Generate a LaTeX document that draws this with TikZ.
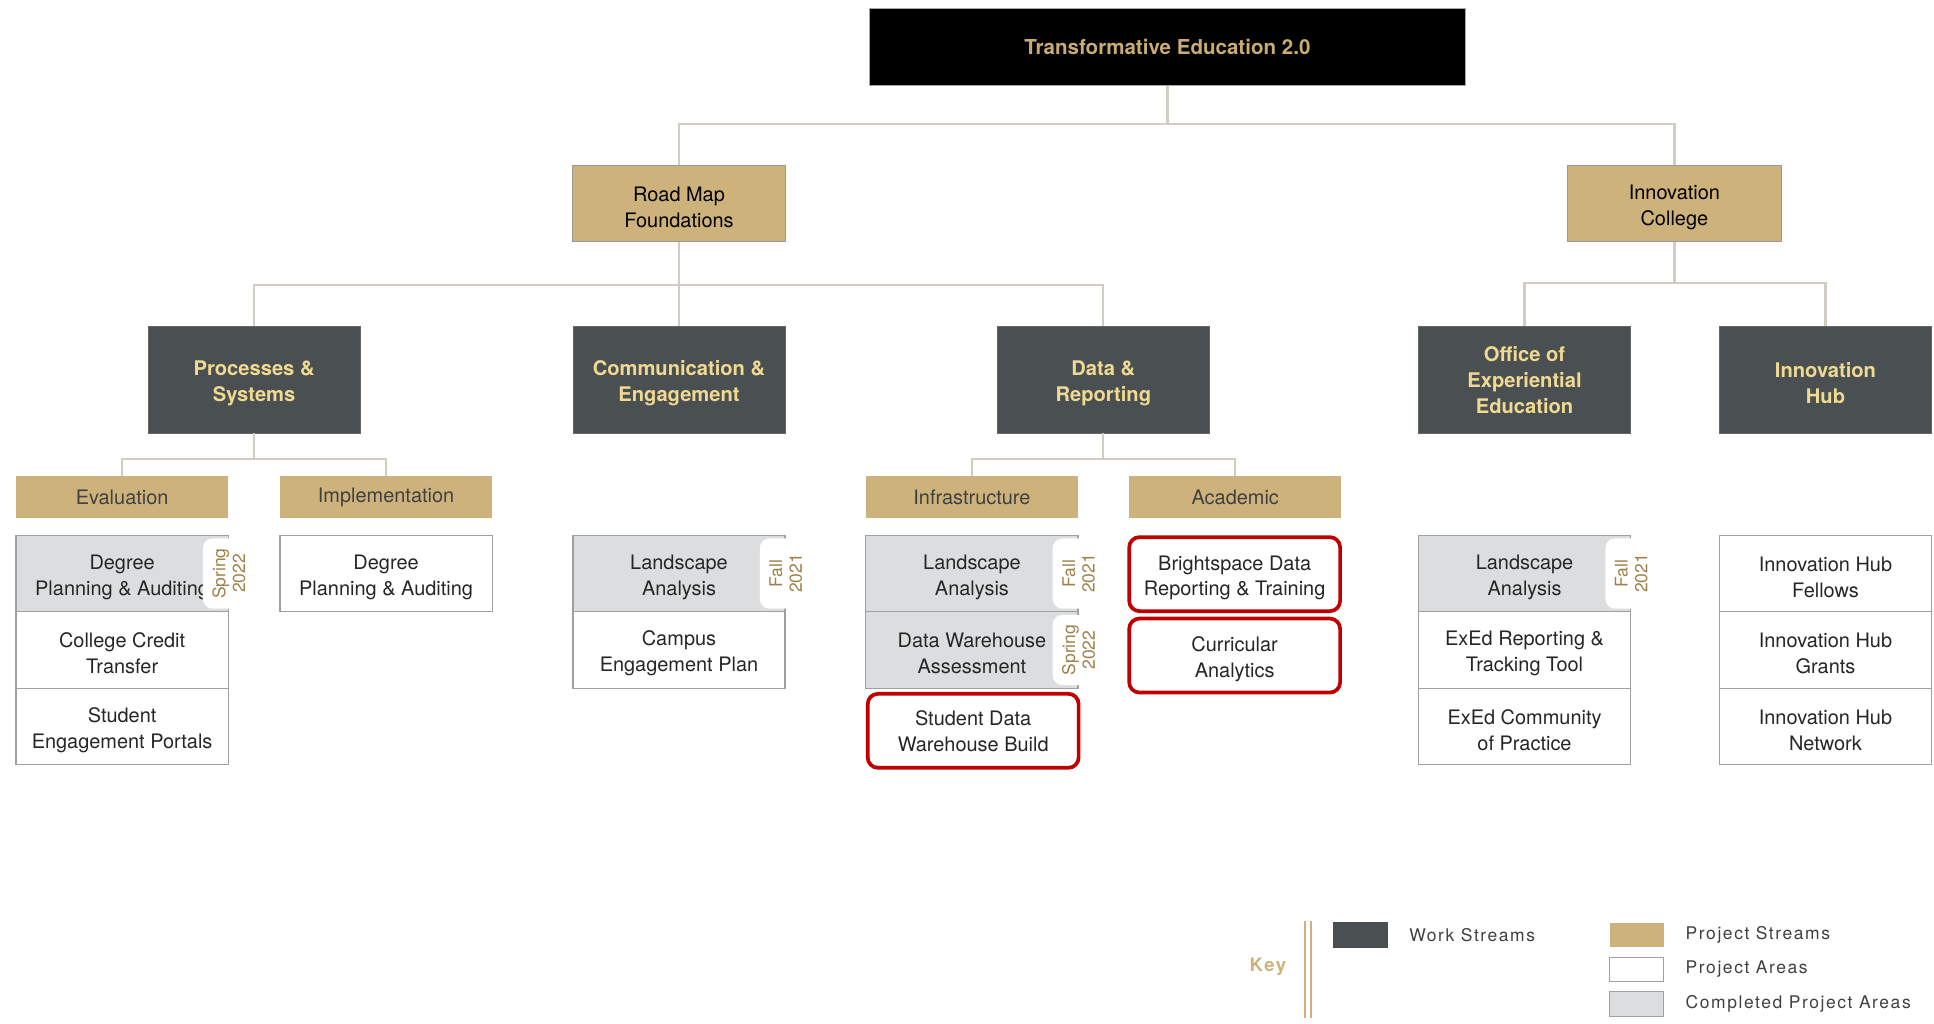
\documentclass[tikz,border=0pt]{standalone}
\usepackage{fontspec}
\setmainfont{TeX Gyre Heros}
\newfontfamily\keyfont[LetterSpace=9]{TeX Gyre Heros}
\usetikzlibrary{positioning}

\definecolor{ucfgold}{RGB}{205,178,124}
\definecolor{titlegold}{RGB}{200,172,114}
\definecolor{slate}{RGB}{74,79,82}
\definecolor{paleyellow}{RGB}{240,218,146}
\definecolor{linkgray}{RGB}{210,205,195}
\definecolor{donegray}{RGB}{220,221,223}
\definecolor{edgegray}{RGB}{160,160,160}
\definecolor{tabbrown}{RGB}{160,128,72}
\definecolor{flagred}{RGB}{192,0,0}
\definecolor{inkgray}{RGB}{64,64,64}

% white date tab on the right edge of a finished area
\newcommand{\datetab}[2]{%
	\fill[white, rounded corners = 4.8pt] ([xshift = -12.6pt, yshift = -1.8pt]#1.north east) rectangle ([xshift = 6pt, yshift = 1.8pt]#1.south east);
	\node[tabtext] (#1tab) at (#1.east) {#2};
}

\begin{document}
\begin{tikzpicture}[x = .6pt, y = -.6pt]
	\tikzstyle{every node} = [font = \fontsize{9.7}{12.6}\selectfont, align = center, inner sep = 0pt]
	\tikzstyle{lowtext} = [execute at begin node = {\rule{0pt}{23.3pt}}]
	\tikzstyle{link} = [draw = linkgray, line width = 1.1pt]
	\tikzstyle{rootbox} = [fill = black, draw = gray!70, text = titlegold, font = \fontsize{10}{12.6}\selectfont\bfseries, minimum width = 289.8pt, minimum height = 37.2pt]
	\tikzstyle{projbox} = [lowtext, fill = ucfgold, draw = gray!80, text = black, minimum width = 103.8pt, minimum height = 37.2pt]
	\tikzstyle{workbox} = [lowtext, fill = slate, draw = black!60, text = paleyellow, font = \fontsize{9.8}{12.6}\selectfont\bfseries, minimum width = 103.2pt, minimum height = 51.6pt]
	\tikzstyle{streambox} = [fill = ucfgold, text = inkgray, minimum width = 103.2pt, minimum height = 20.4pt]
	\tikzstyle{plainbox} = [fill = white, draw = edgegray, line width = .6pt, text = black!85, minimum width = 103.2pt, minimum height = 37.2pt]
	\tikzstyle{areabox} = [plainbox, lowtext]
	\tikzstyle{donebox} = [areabox, fill = donegray]
	\tikzstyle{redbox} = [plainbox, draw = flagred, line width = 1.8pt, rounded corners = 5pt, minimum width = 102.6pt, minimum height = 36pt]
	\tikzstyle{tabtext} = [rotate = 90, text = tabbrown, font = \fontsize{8.5}{9.6}\selectfont]
	\tikzstyle{swatch} = [minimum width = 26.4pt, minimum height = 12pt]
	\tikzstyle{keytext} = [text = inkgray, font = \keyfont\fontsize{8.5}{10}\selectfont]

	\useasboundingbox (0,0) rectangle (1568,830);

	% top of the tree
	\node[rootbox] (root) at (946.5, 38) {Transformative Education 2.0};
	\node[projbox] (rmf) at (550.5, 165) {Road Map\\Foundations};
	\node[projbox] (ic) at (1357.5, 165) {Innovation\\College};

	% work streams
	\node[workbox] (ps) at (206, 308) {Processes \&\\Systems};
	\node[workbox] (ce) at (550.5, 308) {Communication \&\\Engagement};
	\node[workbox] (dr) at (894.5, 308) {Data \&\\Reporting};
	\node[workbox] (oe) at (1236, 308) {Office of\\Experiential\\Education};
	\node[workbox] (ih) at (1480, 308) {Innovation\\Hub};

	% project streams
	\node[streambox] (ev) at (99, 403) {Evaluation};
	\node[streambox] (im) at (313, 403) {Implementation};
	\node[streambox] (inf) at (788, 403) {Infrastructure};
	\node[streambox] (ac) at (1001.5, 403) {Academic};

	% connectors
	\foreach \w in {rmf, ic}
		\draw[link] (root.south) -- ++(0,31) -| (\w.north);
	\foreach \w in {ps, ce, dr}
		\draw[link] (rmf.south) -- ++(0,35) -| (\w.north);
	\foreach \w in {oe, ih}
		\draw[link] (ic.south) -- ++(0,33) -| (\w.north);
	\foreach \s in {ev, im}
		\draw[link] (ps.south) -- ++(0,21) -| (\s.north);
	\foreach \s in {inf, ac}
		\draw[link] (dr.south) -- ++(0,21) -| (\s.north);

	% project areas
	\node[donebox] (ev1) at (99, 465) {Degree\\Planning \& Auditing};
	\node[areabox] (ev2) at (99, 527) {College Credit\\Transfer};
	\node[areabox] (ev3) at (99, 589) {Student\\Engagement Portals};
	\datetab{ev1}{Spring\\2022}

	\node[areabox] (im1) at (313, 465) {Degree\\Planning \& Auditing};

	\node[donebox] (ce1) at (550.5, 465) {Landscape\\Analysis};
	\node[areabox] (ce2) at (550.5, 527) {Campus\\Engagement Plan};
	\datetab{ce1}{Fall\\2021}

	\node[donebox] (inf1) at (788, 465) {Landscape\\Analysis};
	\node[donebox] (inf2) at (788, 527) {Data Warehouse\\Assessment};
	\node[redbox] (inf3) at (789, 592.5) {Student Data\\Warehouse Build};
	\datetab{inf1}{Fall\\2021}
	\datetab{inf2}{Spring\\2022}

	\node[redbox, lowtext] (ac1) at (1001, 465.5) {Brightspace Data\\Reporting \& Training};
	\node[redbox, lowtext] (ac2) at (1001, 531.5) {Curricular\\Analytics};

	\node[donebox] (oe1) at (1236, 465) {Landscape\\Analysis};
	\node[areabox] (oe2) at (1236, 527) {ExEd Reporting \&\\Tracking Tool};
	\node[areabox] (oe3) at (1236, 589) {ExEd Community\\of Practice};
	\datetab{oe1}{Fall\\2021}

	\node[areabox] (ih1) at (1480, 465) {Innovation Hub\\Fellows};
	\node[areabox] (ih2) at (1480, 527) {Innovation Hub\\Grants};
	\node[areabox] (ih3) at (1480, 589) {Innovation Hub\\Network};

	% key
	\draw[ucfgold, line width = .9pt] (1058, 747) -- (1058, 825);
	\draw[ucfgold, line width = .9pt] (1063, 747) -- (1063, 825);
	\node[text = ucfgold, font = \keyfont\fontsize{9}{10}\selectfont\bfseries] (key) at (1028, 784) {Key};
	\node[swatch, fill = slate, draw = black!70] (kws) at (1103, 758) {};
	\node[keytext, right = 10.2pt of kws] (lws) {Work Streams};
	\node[swatch, fill = ucfgold] (kps) at (1327, 758) {};
	\node[keytext, right = 10.2pt of kps] (lps) {Project Streams};
	\node[swatch, fill = white, draw = edgegray] (kpa) at (1327, 786) {};
	\node[keytext, right = 10.2pt of kpa] (lpa) {Project Areas};
	\node[swatch, fill = donegray, draw = edgegray] (kcp) at (1327, 814) {};
	\node[keytext, right = 10.2pt of kcp] (lcp) {Completed Project Areas};
\end{tikzpicture}
\end{document}
